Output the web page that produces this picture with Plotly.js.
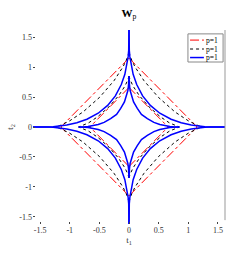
<!DOCTYPE html>
<html>
<head>
<meta charset="utf-8">
<script src="https://cdn.plot.ly/plotly-3.0.1.min.js"></script>
<style>html,body{margin:0;padding:0;background:#fff;}#chart{width:249px;height:261px;}</style>
</head>
<body>
<div id="chart"></div>
<script>
// Legend labels
const seriesNames = ['p=1', 'p=1', 'p=1'];
const tickVals = [-1.5, -1, -0.5, 0, 0.5, 1, 1.5];
const tickText = ['-1.5', '-1', '-0.5', '0', '0.5', '1', '1.5'];

// First-quadrant contour points (t1, t2); the figure is symmetric in both axes
const redOuterT1 = [0, 1.15];
const redOuterT2 = [1.15, 0];
const redInnerT1 = [0, 0.66];
const redInnerT2 = [0.66, 0];

const blackOuterT1 = [0, 0.023, 0.10, 0.251, 0.496, 0.776, 1.006, 1.168, 1.25];
const blackOuterT2 = [1.25, 1.168, 1.006, 0.776, 0.496, 0.251, 0.10, 0.023, 0];
const blackInnerT1 = [0, 0.016, 0.068, 0.171, 0.337, 0.528, 0.684, 0.794, 0.85];
const blackInnerT2 = [0.85, 0.794, 0.684, 0.528, 0.337, 0.171, 0.068, 0.016, 0];

const blueOuterT1 = [0, 0, 0.001, 0.005, 0.015, 0.033, 0.07, 0.13, 0.23, 0.36, 0.52, 0.71, 0.88, 1.05, 1.17, 1.28, 1.36, 1.45, 1.7];
const blueOuterT2 = [1.7, 1.45, 1.36, 1.28, 1.17, 1.05, 0.88, 0.71, 0.52, 0.36, 0.23, 0.13, 0.07, 0.033, 0.015, 0.005, 0.001, 0, 0];
const blueInnerT1 = [0, 0.001, 0.003, 0.0085, 0.019, 0.041, 0.077, 0.14, 0.21, 0.31, 0.42, 0.52, 0.61, 0.69, 0.75, 0.80, 0.85];
const blueInnerT2 = [0.85, 0.80, 0.75, 0.69, 0.61, 0.52, 0.42, 0.31, 0.21, 0.14, 0.077, 0.041, 0.019, 0.0085, 0.003, 0.001, 0];

// Build the four mirrored copies of a quadrant curve, separated by gaps
function mirror(t1, t2) {
  const xs = [], ys = [];
  const signs = [[1, 1], [1, -1], [-1, -1], [-1, 1]];
  signs.forEach(s => {
    for (let i = 0; i < t1.length; i++) { xs.push(s[0] * t1[i]); ys.push(s[1] * t2[i]); }
    xs.push(null); ys.push(null);
  });
  return {x: xs, y: ys};
}
function join(a, b) { return {x: a.x.concat(b.x), y: a.y.concat(b.y)}; }

const red = join(mirror(redOuterT1, redOuterT2), mirror(redInnerT1, redInnerT2));
const black = join(mirror(blackOuterT1, blackOuterT2), mirror(blackInnerT1, blackInnerT2));
const blue = join(mirror(blueOuterT1, blueOuterT2), mirror(blueInnerT1, blueInnerT2));

const styles = [
  {color: '#ff0000', width: 1, dash: 'dashdot'},
  {color: '#000000', width: 1, dash: '3px,3px'},
  {color: '#0000ff', width: 1.5, dash: 'solid'}
];

const traces = [
  {x: red.x, y: red.y, mode: 'lines', name: seriesNames[0], line: styles[0]},
  {x: black.x, y: black.y, mode: 'lines', name: seriesNames[1], line: styles[1]},
  {x: blue.x, y: blue.y, mode: 'lines', name: seriesNames[2], line: styles[2]}
];

const fontFam = '"Liberation Serif", "Times New Roman", serif';
const axisCommon = {
  range: [-1.62, 1.62], tickvals: tickVals, ticktext: tickText,
  ticks: 'inside', ticklen: 2, tickcolor: '#444',
  showgrid: false, zeroline: false, showline: false,
  tickfont: {family: fontFam, size: 8, color: '#333'}
};

// Compact legend drawn in paper coordinates (box, line samples, labels)
const legendRowsY = [0.948, 0.902, 0.858];
const shapes = [
  {type: 'line', xref: 'paper', yref: 'paper', x0: 1, x1: 1, y0: 0.02, y1: 1, line: {color: '#999', width: 1}},
  {type: 'rect', xref: 'paper', yref: 'paper', x0: 0.807, x1: 0.99, y0: 0.835, y1: 0.98,
   line: {color: '#888', width: 1}, fillcolor: '#fff', layer: 'above'}
];
const annotations = [];
seriesNames.forEach((nm, i) => {
  shapes.push({type: 'line', xref: 'paper', yref: 'paper', x0: 0.818, x1: 0.89, y0: legendRowsY[i], y1: legendRowsY[i],
               line: styles[i], layer: 'above'});
  annotations.push({xref: 'paper', yref: 'paper', x: 0.893, y: legendRowsY[i], xanchor: 'left', yanchor: 'middle',
                    text: nm, showarrow: false, font: {family: fontFam, size: 7.5, color: '#000'}});
});

const layout = {
  width: 249, height: 261,
  margin: {l: 33, r: 24, t: 30, b: 37},
  paper_bgcolor: '#fff', plot_bgcolor: '#fff',
  title: {text: '<b>W</b><sub>p</sub>', font: {family: fontFam, size: 11, color: '#000'},
          x: 0.5, xref: 'paper', y: 0.95, yref: 'container', yanchor: 'middle'},
  xaxis: Object.assign({}, axisCommon, {title: {text: 't<sub>1</sub>', font: {family: fontFam, size: 9, color: '#333'}, standoff: 2}}),
  yaxis: Object.assign({}, axisCommon, {title: {text: 't<sub>2</sub>', font: {family: fontFam, size: 9, color: '#333'}, standoff: 4}}),
  showlegend: false,
  shapes: shapes,
  annotations: annotations
};

Plotly.newPlot('chart', traces, layout, {displayModeBar: false, staticPlot: true});
</script>
</body>
</html>
